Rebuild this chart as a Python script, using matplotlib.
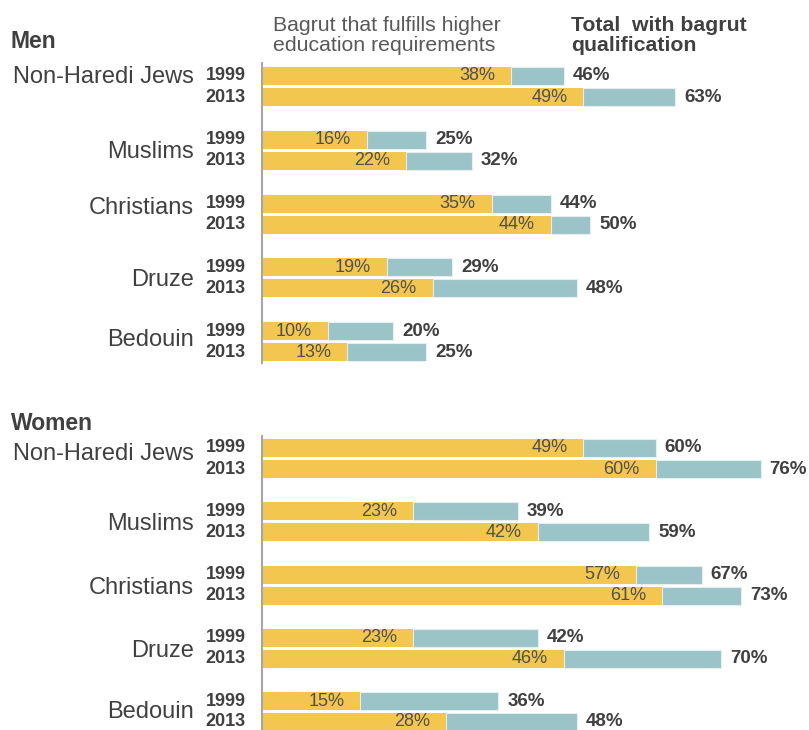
import matplotlib
matplotlib.use("Agg")
import matplotlib.pyplot as plt

# ---------------- data ----------------
groups = ["Non-Haredi Jews", "Muslims", "Christians", "Druze", "Bedouin"]
years = ["1999", "2013"]

men_higher = [[38, 49], [16, 22], [35, 44], [19, 26], [10, 13]]
men_total = [[46, 63], [25, 32], [44, 50], [29, 48], [20, 25]]
women_higher = [[49, 60], [23, 42], [57, 61], [23, 46], [15, 28]]
women_total = [[60, 76], [39, 59], [67, 73], [42, 70], [36, 48]]

legend_higher = "Bagrut that fulfills higher\neducation requirements"
legend_total = "Total  with bagrut\nqualification"

# ---------------- style ----------------
W, H = 809, 730
DPI = 100
YELLOW = "#F2C64F"
TEAL = "#9AC4C8"
DARK = "#404040"
MID = "#505050"
FONT = "Liberation Sans"
PX_PER_PCT = 6.56

plt.rcParams["font.family"] = [FONT, "DejaVu Sans"]

fig = plt.figure(figsize=(W / DPI, H / DPI), dpi=DPI)


def panel(top_px, bottom_px, c0_px, spacing_px, higher, total, title, title_y, label_dy):
    left_px = 262
    ax = fig.add_axes([left_px / W, 1 - bottom_px / H, (W - left_px) / W, (bottom_px - top_px) / H])
    ax.set_xlim(0, (W - left_px) / PX_PER_PCT)
    ax.set_ylim((bottom_px - c0_px) / spacing_px, (top_px - c0_px) / spacing_px)
    half = 10.5 / spacing_px
    bh = 18 / spacing_px
    for i, g in enumerate(groups):
        for j, yr in enumerate(years):
            y = i + (-half if j == 0 else half)
            h = higher[i][j]
            t = total[i][j]
            ax.barh(y, h, height=bh, color=YELLOW, edgecolor="none")
            ax.barh(y, t - h, left=h, height=bh, color=TEAL, edgecolor="#E6EEEF", linewidth=0.8)
            ax.annotate(f"{h}%", xy=(h, y), xytext=(-16, 0), textcoords="offset pixels",
                        ha="right", va="center", fontsize=13, color=MID)
            ax.annotate(f"{t}%", xy=(t, y), xytext=(9, 0), textcoords="offset pixels",
                        ha="left", va="center", fontsize=13.5, color=DARK, fontweight="bold")
            ax.annotate(yr, xy=(246, y), xycoords=("figure pixels", "data"),
                        ha="right", va="center", fontsize=13, color=DARK, fontweight="bold")
        ax.annotate(g, xy=(194, i + label_dy[i] / spacing_px), xycoords=("figure pixels", "data"),
                    ha="right", va="center", fontsize=17, color=DARK)
    for s in ["top", "right", "bottom"]:
        ax.spines[s].set_visible(False)
    ax.spines["left"].set_color("#A6A6A6")
    ax.spines["left"].set_linewidth(1.5)
    ax.set_xticks([])
    ax.set_yticks([])
    ax.patch.set_alpha(0)
    fig.text(11 / W, 1 - title_y / H, title, ha="left", va="center", fontsize=16.5,
             fontweight="bold", color=DARK)
    return ax


panel(63, 363, 86.5, 63.75, men_higher, men_total, "Men", 41, [-9.5, 1.5, -6.5, 2, -1.5])
panel(436, 730, 458.5, 63.25, women_higher, women_total, "Women", 424, [-4, 2, 3, 3, 0])

fig.text(273 / W, 1 - 35.5 / H, legend_higher, ha="left", va="center", fontsize=15.3,
         color="#595959", linespacing=1.12)
fig.text(571 / W, 1 - 35.5 / H, legend_total, ha="left", va="center", fontsize=15.3,
         color=DARK, fontweight="bold", linespacing=1.12)

fig.savefig("out.png", dpi=DPI)
